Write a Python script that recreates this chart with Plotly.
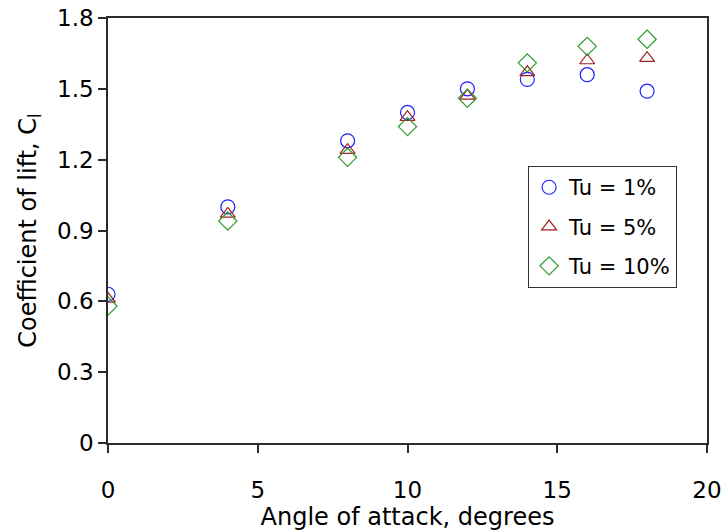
import plotly.graph_objects as go

# Lift coefficient measured at each angle of attack for three turbulence intensities
alpha_deg = [0, 4, 8, 10, 12, 14, 16, 18]
cl_tu1 = [0.63, 1.00, 1.28, 1.40, 1.50, 1.54, 1.56, 1.49]
cl_tu5 = [0.61, 0.97, 1.24, 1.38, 1.47, 1.57, 1.62, 1.63]
cl_tu10 = [0.58, 0.94, 1.21, 1.34, 1.46, 1.61, 1.68, 1.71]

series_names = ["Tu = 1%", "Tu = 5%", "Tu = 10%"]
x_ticks = [0, 5, 10, 15, 20]
y_ticks = [0, 0.3, 0.6, 0.9, 1.2, 1.5, 1.8]
y_tick_text = ["0", "0.3", "0.6", "0.9", "1.2", "1.5", "1.8"]

FONT = "DejaVu Sans, Arial, sans-serif"
AXIS_COLOR = "#2b2b2b"

styles = [
    dict(symbol="circle-open", color="#1f1fff", size=14),
    dict(symbol="triangle-up-open", color="#a02020", size=13),
    dict(symbol="diamond-open", color="#2e9b2e", size=14),
]

fig = go.Figure()
for name, values, st in zip(series_names, [cl_tu1, cl_tu5, cl_tu10], styles):
    fig.add_trace(
        go.Scatter(
            x=alpha_deg,
            y=values,
            mode="markers",
            name=name,
            legendgroup=name,
            marker=dict(
                symbol=st["symbol"],
                size=st["size"],
                color=st["color"],
                line=dict(color=st["color"], width=1.2),
            ),
        )
    )

fig.update_layout(
    width=725,
    height=531,
    margin=dict(l=108, r=18, t=18, b=88),
    paper_bgcolor="white",
    plot_bgcolor="white",
    font=dict(family=FONT, size=22, color="black"),
    showlegend=True,
    legend=dict(
        x=0.701,
        y=0.652,
        xanchor="left",
        yanchor="top",
        bgcolor="white",
        bordercolor="#333333",
        borderwidth=1.2,
        font=dict(family=FONT, size=21, color="black"),
        tracegroupgap=9,
        traceorder="grouped",
        itemwidth=30,
    ),
)

fig.update_xaxes(
    range=[0, 20],
    tickvals=x_ticks,
    ticks="outside",
    ticklen=8,
    tickwidth=1.5,
    tickcolor=AXIS_COLOR,
    showline=True,
    linecolor=AXIS_COLOR,
    linewidth=1.5,
    mirror=True,
    showgrid=False,
    zeroline=False,
    automargin=False,
    ticklabelstandoff=18,
    tickfont=dict(family=FONT, size=23),
    title=dict(text="Angle of attack, degrees", font=dict(family=FONT, size=24), standoff=6),
)

fig.update_yaxes(
    range=[0, 1.8],
    tickvals=y_ticks,
    ticktext=y_tick_text,
    ticks="outside",
    ticklen=8,
    tickwidth=1.5,
    tickcolor=AXIS_COLOR,
    showline=True,
    linecolor=AXIS_COLOR,
    linewidth=1.5,
    mirror=True,
    showgrid=False,
    zeroline=False,
    automargin=False,
    tickfont=dict(family=FONT, size=23),
    title=dict(text="Coefficient of lift, C<sub>l</sub>", font=dict(family=FONT, size=24), standoff=14),
)

fig.write_html("out.html")
